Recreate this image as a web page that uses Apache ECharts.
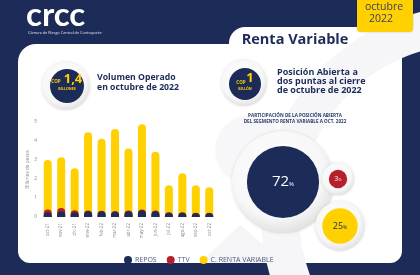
<!DOCTYPE html>
<html><head><meta charset="utf-8">
<script src="https://cdn.jsdelivr.net/npm/echarts@6/dist/echarts.min.js"></script>
<style>html,body{margin:0;padding:0;background:#1c2b58;}#c{width:420px;height:275px;}</style>
</head><body><div id="c"></div>
<script>
const categories = ['oct-21','nov-21','dic-21','ene-22','feb-22','mar-22','abr-22','may-22','jun-22','jul-22','ago-22','sep-22','oct-22'];
const repos = [0.25,0.30,0.25,0.30,0.30,0.28,0.30,0.35,0.30,0.22,0.22,0.20,0.20];
const ttv = [0.14,0.17,0.11,0.04,0.03,0.03,0.04,0.05,0.04,0.03,0.03,0.02,0.02];
const rentaVariable = [2.61,2.67,2.20,4.12,3.79,4.32,3.27,4.48,3.10,1.42,2.05,1.45,1.34];
const yTicks = [0,1,2,3,4,5];
const shareLabels = ['REPOS','TTV','C. RENTA VARIABLE'];
const shareValues = [72,3,25];
const seriesNames = ['REPOS','TTV','C. RENTA VARIABLE'];

// layout (pixel positions of bubbles, not data)
const bubblePos = [[283,182],[338,179],[340,226]];

const NAVY = '#1c2b58', RED = '#b61f2c', YEL = '#ffd100';
const colors = [NAVY, RED, YEL];
const F = '"Open Sans", sans-serif';

const cumTtv = repos.map((v,i)=> +(v + ttv[i]).toFixed(3));
const cumAll = repos.map((v,i)=> +(v + ttv[i] + rentaVariable[i]).toFixed(3));

const chart = echarts.init(document.getElementById('c'), null, {renderer:'canvas'});

const ringFill = {type:'radial', x:0.45, y:0.4, r:0.6, colorStops:[{offset:0,color:'#ffffff'},{offset:0.75,color:'#f7f7f7'},{offset:1,color:'#e2e2e2'}]};

function bubbleSize(v){ return 16 + 0.78*v; }

const graphic = [
  {type:'rect', z:-10, shape:{x:0,y:0,width:420,height:275}, style:{fill:NAVY}},
  {type:'rect', z:-9, shape:{x:18,y:44,width:384,height:219,r:[18,0,12,12]}, style:{fill:'#ffffff'}},
  {type:'rect', z:-9, shape:{x:229,y:27,width:173,height:40,r:[16,0,0,0]}, style:{fill:'#ffffff'}},
  // watermark arcs
  {type:'circle', z:-8, shape:{cx:470,cy:215,r:190}, style:{fill:'none', stroke:'#f6f6f8', lineWidth:38}},
  {type:'circle', z:-8, shape:{cx:250,cy:150,r:35}, style:{fill:'#f7f7f9'}},
  {type:'polygon', z:-8, shape:{points:[[200,263],[240,225],[285,263]]}, style:{fill:'#f5f5f7'}},
  // yellow date box
  {type:'rect', z:5, shape:{x:357,y:0,width:56,height:32,r:[0,0,4,4]}, style:{fill:YEL, shadowBlur:2, shadowColor:'rgba(0,0,0,0.2)'}},
  {type:'text', z:6, x:384, y:7, style:{text:'octubre', fill:'#3c4060', font:'10.5px '+F, textAlign:'center', textVerticalAlign:'middle'}},
  {type:'text', z:6, x:381, y:19.5, style:{text:'2022', fill:'#3c4060', font:'10.5px '+F, textAlign:'center', textVerticalAlign:'middle'}},
  // logo
  {type:'text', x:26, y:15, style:{text:'crcc', fill:'#ffffff', font:'bold 33px Lato, sans-serif', textAlign:'left', textVerticalAlign:'middle'}},
  {type:'text', x:28, y:33, style:{text:'Cámara de Riesgo Central de Contraparte', fill:'#dfe3ee', font:'3.8px '+F, textAlign:'left', textVerticalAlign:'middle'}},
  // title
  {type:'text', x:295, y:40, style:{text:'Renta Variable', fill:NAVY, font:'bold 14.5px '+F, textAlign:'center', textVerticalAlign:'middle'}},
  // COP 1,4
  {type:'circle', shape:{cx:66,cy:86,r:24}, style:{fill:ringFill, shadowBlur:3, shadowColor:'rgba(0,0,0,0.12)'}},
  {type:'circle', shape:{cx:67,cy:86,r:17}, style:{fill:NAVY}},
  {type:'text', x:56, y:82, style:{text:'COP', fill:YEL, font:'bold 4.5px '+F, textAlign:'center', textVerticalAlign:'middle'}},
  {type:'text', x:73, y:79.5, style:{text:'1,4', fill:YEL, font:'bold 13px '+F, textAlign:'center', textVerticalAlign:'middle'}},
  {type:'text', x:67, y:89, style:{text:'BILLONES', fill:YEL, font:'bold 3.6px '+F, textAlign:'center', textVerticalAlign:'middle'}},
  {type:'text', x:97, y:78, style:{text:'Volumen Operado', fill:NAVY, font:'bold 8.7px '+F, textAlign:'left', textVerticalAlign:'middle'}},
  {type:'text', x:97, y:88, style:{text:'en octubre de 2022', fill:NAVY, font:'bold 8.7px '+F, textAlign:'left', textVerticalAlign:'middle'}},
  // COP 1
  {type:'circle', shape:{cx:244,cy:83,r:23}, style:{fill:ringFill, shadowBlur:3, shadowColor:'rgba(0,0,0,0.12)'}},
  {type:'circle', shape:{cx:245,cy:84,r:16}, style:{fill:NAVY}},
  {type:'text', x:241, y:82.5, style:{text:'COP', fill:YEL, font:'bold 4.5px '+F, textAlign:'center', textVerticalAlign:'middle'}},
  {type:'text', x:250, y:78, style:{text:'1', fill:YEL, font:'bold 13px '+F, textAlign:'center', textVerticalAlign:'middle'}},
  {type:'text', x:245, y:88.5, style:{text:'BILLÓN', fill:YEL, font:'bold 3.6px '+F, textAlign:'center', textVerticalAlign:'middle'}},
  {type:'text', x:277, y:72, style:{text:'Posición Abierta a', fill:NAVY, font:'bold 9px '+F, textAlign:'left', textVerticalAlign:'middle'}},
  {type:'text', x:277, y:81, style:{text:'dos puntas al cierre', fill:NAVY, font:'bold 9px '+F, textAlign:'left', textVerticalAlign:'middle'}},
  {type:'text', x:277, y:90, style:{text:'de octubre de 2022', fill:NAVY, font:'bold 9px '+F, textAlign:'left', textVerticalAlign:'middle'}},
  {type:'text', x:295, y:116, style:{text:'PARTICIPACIÓN DE LA POSICIÓN ABIERTA', fill:'#2c3a66', font:'bold 4.6px '+F, textAlign:'center', textVerticalAlign:'middle'}},
  {type:'text', x:295, y:122, style:{text:'DEL SEGMENTO RENTA VARIABLE A OCT. 2022', fill:'#2c3a66', font:'bold 4.6px '+F, textAlign:'center', textVerticalAlign:'middle'}}
];

const barCommon = {type:'bar', xAxisIndex:0, yAxisIndex:0, barWidth:8, barGap:'-100%'};

const option = {
  animation:false,
  graphic: graphic,
  legend: {
    data: seriesNames, left:119, top:251, icon:'circle', itemWidth:8, itemHeight:8, itemGap:10,
    textStyle:{fontSize:7, color:'#4a5579', fontFamily:F, fontWeight:500, padding:[0,0,0,-2]}
  },
  grid: [
    {left:41, top:122, width:175, height:95, containLabel:false},
    {left:0, top:0, width:420, height:275}
  ],
  xAxis: [
    {type:'category', gridIndex:0, data:categories,
     axisLine:{show:false}, axisTick:{show:false},
     axisLabel:{rotate:90, fontSize:4.5, color:'#8a8a8a', margin:6, interval:0, fontFamily:F}},
    {type:'value', gridIndex:1, min:0, max:420, show:false}
  ],
  yAxis: [
    {type:'value', gridIndex:0, min:0, max:5, interval:1,
     name:'Billones de pesos', nameLocation:'middle', nameGap:11, nameRotate:90,
     nameTextStyle:{fontSize:4.8, color:'#8a8a8a', fontFamily:F},
     axisLine:{show:false}, axisTick:{show:false}, splitLine:{show:false},
     axisLabel:{fontSize:4.8, color:'#8a8a8a', margin:4, fontFamily:F,
       formatter:(v)=> yTicks.includes(v)? String(v):''}},
    {type:'value', gridIndex:1, min:0, max:275, inverse:true, show:false}
  ],
  series: [
    Object.assign({}, barCommon, {name:seriesNames[2], data:cumAll, z:2, itemStyle:{color:YEL, borderRadius:[4,4,0,0]}}),
    Object.assign({}, barCommon, {name:seriesNames[1], data:cumTtv, z:3, itemStyle:{color:RED, borderRadius:[4,4,0,0]}}),
    Object.assign({}, barCommon, {name:seriesNames[0], data:repos, z:4, itemStyle:{color:NAVY, borderRadius:[4,4,0,0]}}),
    {type:'scatter', xAxisIndex:1, yAxisIndex:1, z:5, silent:true,
     data: shareValues.map((v,i)=>({value:[bubblePos[i][0], bubblePos[i][1], v]})),
     symbolSize:(d)=> bubbleSize(d[2]) + (d[2]>50 ? 30 : 14),
     itemStyle:{color:ringFill, opacity:1, shadowBlur:3, shadowColor:'rgba(0,0,0,0.12)'}},
    {type:'scatter', xAxisIndex:1, yAxisIndex:1, z:6, silent:true,
     data: shareValues.map((v,i)=>({name:shareLabels[i], value:[bubblePos[i][0], bubblePos[i][1], v], itemStyle:{color:colors[i], opacity:1}})),
     symbolSize:(d)=> bubbleSize(d[2]),
     label:{show:true, position:'inside',
       formatter:(p)=> '{n' + p.dataIndex + '|' + p.value[2] + '}{p' + p.dataIndex + '|%}',
       rich:{
         n0:{fontSize:15, color:'#ffffff', fontFamily:F}, p0:{fontSize:6, color:'#ffffff', fontFamily:F, padding:[5,0,0,0]},
         n1:{fontSize:7, color:'#ffffff', fontFamily:F}, p1:{fontSize:4, color:'#ffffff', fontFamily:F, padding:[2,0,0,0]},
         n2:{fontSize:9, color:NAVY, fontFamily:F}, p2:{fontSize:5, color:NAVY, fontFamily:F, padding:[3,0,0,0]}
       }}}
  ]
};
chart.setOption(option);
</script></body></html>
